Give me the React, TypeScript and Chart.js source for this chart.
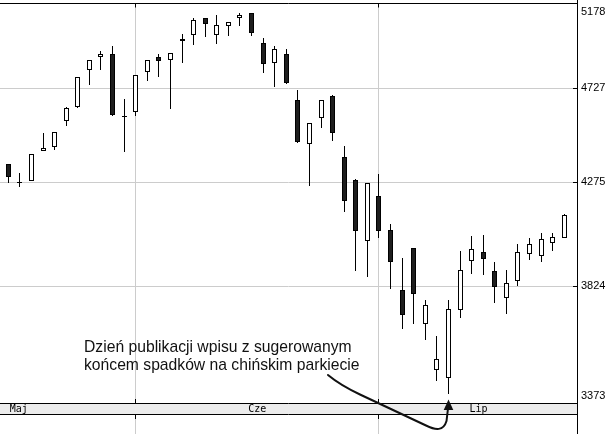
import React, { useEffect, useRef } from 'react';
import { Chart, registerables } from 'chart.js';

Chart.register(...registerables);

// Trading days (Shanghai Composite, 2015)
const dates = [
  '2015-05-15', '2015-05-18', '2015-05-19', '2015-05-20', '2015-05-21', '2015-05-22',
  '2015-05-25', '2015-05-26', '2015-05-27', '2015-05-28', '2015-05-29',
  '2015-06-01', '2015-06-02', '2015-06-03', '2015-06-04', '2015-06-05',
  '2015-06-08', '2015-06-09', '2015-06-10', '2015-06-11', '2015-06-12',
  '2015-06-15', '2015-06-16', '2015-06-17', '2015-06-18', '2015-06-19',
  '2015-06-23', '2015-06-24', '2015-06-25', '2015-06-26', '2015-06-29', '2015-06-30',
  '2015-07-01', '2015-07-02', '2015-07-03', '2015-07-06', '2015-07-07', '2015-07-08',
  '2015-07-09', '2015-07-10', '2015-07-13', '2015-07-14', '2015-07-15', '2015-07-16',
  '2015-07-17', '2015-07-20', '2015-07-21', '2015-07-22', '2015-07-23',
];

const openV = [
  4357, 4277, 4280, 4422, 4441, 4567, 4633, 4819, 4890, 4904, 4582,
  4609, 4809, 4888, 4874, 4972, 5004, 5096, 5004, 5053, 5096,
  5124, 4963, 4856, 4904, 4668, 4453, 4580, 4688, 4390, 4287, 4015,
  4213, 4062, 3809, 3985, 3673, 3496, 3463, 3725, 3928, 3968, 3888,
  3775, 3845, 3956, 3948, 4005, 4025,
];
const highV = [
  4357, 4318, 4408, 4505, 4513, 4636, 4783, 4876, 4920, 4947, 4673,
  4798, 4876, 4904, 4910, 5011, 5098, 5096, 5114, 5074, 5124,
  5124, 4989, 4947, 4929, 4718, 4557, 4668, 4693, 4444, 4291, 4272,
  4311, 4085, 3939, 3985, 3768, 3625, 3768, 3969, 4037, 4041, 3925,
  3892, 4002, 4028, 4050, 4050, 4132,
];
const lowV = [
  4270, 4252, 4280, 4422, 4425, 4540, 4629, 4744, 4822, 4588, 4414,
  4589, 4765, 4786, 4624, 4859, 4954, 4996, 4959, 5002, 5056,
  5002, 4807, 4735, 4750, 4458, 4257, 4531, 4468, 4139, 3885, 3860,
  4028, 3810, 3650, 3673, 3608, 3453, 3405, 3697, 3872, 3868, 3757,
  3709, 3825, 3934, 3922, 3969, 4025,
];
const closeV = [
  4298, 4270, 4408, 4433, 4513, 4631, 4783, 4871, 4904, 4593, 4591,
  4798, 4871, 4869, 4910, 4982, 5085, 5064, 5060, 5074, 5113,
  5018, 4850, 4929, 4755, 4461, 4557, 4668, 4506, 4188, 4056, 4272,
  4056, 3923, 3707, 3790, 3748, 3535, 3731, 3892, 3981, 3935, 3818,
  3837, 3968, 4002, 4022, 4032, 4129,
];

const yTicks = [3373, 3824, 4275, 4727, 5178];
const monthNames = ['Maj', 'Cze', 'Lip'];
const monthLabelIdx = [0.9, 21.5, 40.6];
const noteLines = ['Dzień publikacji wpisu z sugerowanym', 'końcem spadków na chińskim parkiecie'];
const noteTargetIdx = 38; // 2015-07-09

const monthStartIdx: number[] = dates
  .map((d, i) => (i > 0 && d.slice(5, 7) !== dates[i - 1].slice(5, 7) ? i : -1))
  .filter((i) => i >= 0);

const alignPx = (p: number) => Math.round(p - 0.5) + 0.5;

// snap candle elements to whole device pixels for crisp edges
const snap = {
  id: 'snap',
  beforeDatasetsDraw(chart: any) {
    chart.data.datasets.forEach((_: any, di: number) => {
      const meta = chart.getDatasetMeta(di);
      meta.data.forEach((el: any) => {
        el.x = Math.floor(el.x) + 0.5;
        let y = Math.round(el.y);
        let b = Math.round(el.base);
        if (Math.abs(b - y) < 1) b = y + 1;
        el.y = y;
        el.base = b;
      });
    });
  },
};

const decor = {
  id: 'decor',
  afterDraw(chart: any) {
    const { ctx, chartArea: ca, scales } = chart;
    const xs = scales.x;
    const ys = scales.y;
    const H = chart.height;
    const right = Math.round(ca.right);
    const top = alignPx(ca.top);
    const bandTop = Math.round(ca.bottom);
    const bandBot = bandTop + 11;
    ctx.save();

    // gridline extensions below the band
    ctx.strokeStyle = '#cccccc';
    ctx.lineWidth = 1;
    ctx.beginPath();
    monthStartIdx.forEach((v) => {
      const x = alignPx(xs.getPixelForValue(v));
      ctx.moveTo(x, bandBot + 1);
      ctx.lineTo(x, H);
    });
    ctx.stroke();

    // month band
    ctx.fillStyle = '#ececec';
    ctx.fillRect(0, bandTop, right, bandBot - bandTop);

    ctx.strokeStyle = '#000';
    ctx.beginPath();
    ctx.moveTo(0, bandTop + 0.5);
    ctx.lineTo(right, bandTop + 0.5);
    ctx.moveTo(0, bandBot + 0.5);
    ctx.lineTo(right, bandBot + 0.5);
    ctx.moveTo(0, top);
    ctx.lineTo(right, top);
    ctx.moveTo(right + 0.5, 0);
    ctx.lineTo(right + 0.5, H);
    // month ticks
    monthStartIdx.forEach((v) => {
      const x = alignPx(xs.getPixelForValue(v));
      ctx.moveTo(x, top);
      ctx.lineTo(x, top + 4);
      ctx.moveTo(x, bandTop - 4);
      ctx.lineTo(x, bandTop);
      ctx.moveTo(x, bandBot);
      ctx.lineTo(x, bandBot + 5);
    });
    // y ticks (inside)
    yTicks.forEach((v) => {
      const y = alignPx(ys.getPixelForValue(v));
      ctx.moveTo(right - 4, y);
      ctx.lineTo(right, y);
    });
    ctx.stroke();

    // y labels
    ctx.fillStyle = '#000';
    ctx.font = '11px "Liberation Sans", Arial, sans-serif';
    ctx.textAlign = 'left';
    ctx.textBaseline = 'middle';
    yTicks.forEach((v) => {
      let y = ys.getPixelForValue(v);
      y = Math.max(top + 8.5, Math.min(bandTop - 7, y));
      ctx.fillText(String(v), right + 4, y);
    });

    // month labels
    ctx.font = '10px "DejaVu Sans Mono", monospace';
    ctx.textAlign = 'center';
    monthNames.forEach((m, i) => {
      ctx.fillText(m, xs.getPixelForValue(monthLabelIdx[i]), (bandTop + bandBot) / 2 + 1);
    });

    // annotation text
    ctx.fillStyle = '#111';
    ctx.font = '15.7px "Liberation Sans", Arial, sans-serif';
    ctx.textAlign = 'left';
    ctx.textBaseline = 'alphabetic';
    ctx.fillText(noteLines[0], 84, 351.7);
    ctx.fillText(noteLines[1], 84, 370);

    // curved arrow
    const tipX = Math.floor(xs.getPixelForValue(noteTargetIdx)) + 0.5;
    const tipY = bandTop - 3.5;
    ctx.strokeStyle = '#111';
    ctx.lineWidth = 2;
    ctx.lineCap = 'round';
    ctx.beginPath();
    ctx.moveTo(328, 375);
    ctx.quadraticCurveTo(340, 385, 360, 394.5);
    ctx.lineTo(426, 425.5);
    ctx.bezierCurveTo(436, 430.5, tipX - 5, 431, tipX - 2, 421);
    ctx.lineTo(tipX - 0.5, tipY + 9);
    ctx.stroke();
    ctx.fillStyle = '#111';
    ctx.beginPath();
    ctx.moveTo(tipX, tipY);
    ctx.lineTo(tipX - 4.8, tipY + 10.5);
    ctx.lineTo(tipX + 4.8, tipY + 10.5);
    ctx.closePath();
    ctx.fill();

    ctx.restore();
  },
};

export default function App() {
  const ref = useRef<HTMLCanvasElement | null>(null);

  useEffect(() => {
    document.body.style.margin = '0';
    const canvas = ref.current;
    if (!canvas) return;
    const idx = dates.map((_, i) => i);
    const bodyColors = idx.map((i) => (closeV[i] >= openV[i] ? '#ffffff' : '#1e1e1e'));
    const chart = new Chart(canvas, {
      type: 'bar',
      data: {
        datasets: [
          {
            label: 'wick',
            data: idx.map((i) => ({ x: i, y: [lowV[i], highV[i]] })) as any,
            backgroundColor: '#000000',
            borderWidth: 0,
            barThickness: 1,
            grouped: false,
            inflateAmount: 0,
            order: 2,
          },
          {
            label: 'body',
            data: idx.map((i) => ({ x: i, y: [openV[i], closeV[i]] })) as any,
            backgroundColor: bodyColors,
            borderColor: '#000000',
            borderWidth: 1,
            borderSkipped: false,
            barThickness: 5,
            grouped: false,
            inflateAmount: 0,
            order: 1,
          },
        ],
      } as any,
      options: {
        responsive: false,
        maintainAspectRatio: false,
        devicePixelRatio: 1,
        animation: false,
        layout: { padding: { top: 3.5, left: 0, right: 0, bottom: 0 } },
        plugins: { legend: { display: false }, tooltip: { enabled: false } },
        scales: {
          x: {
            type: 'linear',
            min: -0.72,
            max: 49.1,
            offset: false,
            afterBuildTicks: (s: any) => {
              s.ticks = monthStartIdx.map((v) => ({ value: v }));
            },
            grid: { color: '#cccccc', offset: false, drawTicks: false },
            border: { display: false },
            ticks: { display: false },
            afterFit: (s: any) => {
              s.height = 31;
            },
          },
          y: {
            type: 'logarithmic',
            position: 'right',
            min: 3373,
            max: 5178,
            beginAtZero: false,
            afterBuildTicks: (s: any) => {
              s.ticks = yTicks.map((v) => ({ value: v }));
            },
            grid: { color: '#cccccc', drawTicks: false },
            border: { display: true, color: '#000000' },
            ticks: { display: false },
            afterFit: (s: any) => {
              s.width = 37;
            },
          },
        },
      } as any,
      plugins: [snap, decor],
    });
    return () => chart.destroy();
  }, []);

  return (
    <div style={{ width: 614, height: 434 }}>
      <canvas ref={ref} width={614} height={434} style={{ display: 'block' }} />
    </div>
  );
}
